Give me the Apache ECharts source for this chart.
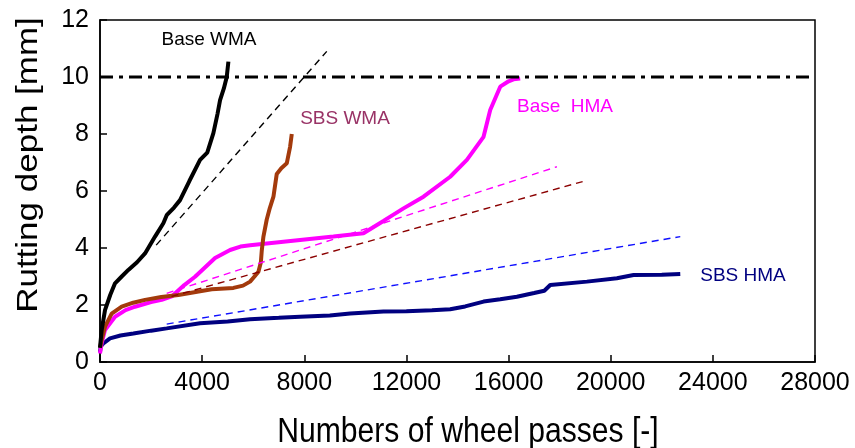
<!DOCTYPE html>
<html>
<head>
<meta charset="utf-8">
<script src="https://cdn.jsdelivr.net/npm/echarts@6/dist/echarts.min.js"></script>
<style>
html,body{margin:0;padding:0;background:#fff;}
#chart{width:855px;height:448px;}
</style>
</head>
<body>
<div id="chart"></div>
<script>
// ---- data ----
var xTicks = [0, 4000, 8000, 12000, 16000, 20000, 24000, 28000];
var yTicks = [0, 2, 4, 6, 8, 10, 12];

var baseWmaX = [0, 65, 196, 400, 588, 850, 1110, 1450, 1763, 2155, 2481, 2612, 2900, 3134, 3500, 3918, 4200, 4440, 4600, 4702, 4850, 4963, 5028];
var baseWmaY = [0.5, 1.12, 1.82, 2.35, 2.76, 3.0, 3.23, 3.5, 3.81, 4.4, 4.87, 5.15, 5.42, 5.68, 6.35, 7.09, 7.35, 8.03, 8.7, 9.19, 9.6, 10.0, 10.54];

var sbsWmaX = [0, 65, 196, 457, 849, 1300, 1763, 2400, 3068, 3918, 4375, 5224, 5600, 5877, 6050, 6204, 6300, 6334, 6400, 6530, 6650, 6792, 6922, 7100, 7314, 7444, 7510];
var sbsWmaY = [0.5, 0.77, 1.24, 1.7, 1.94, 2.08, 2.18, 2.28, 2.35, 2.48, 2.55, 2.6, 2.68, 2.82, 3.0, 3.17, 3.5, 3.9, 4.4, 5.0, 5.4, 5.8, 6.6, 6.8, 6.97, 7.55, 8.0];

var baseHmaX = [0, 65, 196, 588, 1000, 1371, 2000, 2417, 2808, 3300, 3722, 4506, 5094, 5500, 5877, 7183, 9142, 10318, 11100, 11885, 12669, 13714, 14367, 15020, 15281, 15673, 16000, 16193, 16454];
var baseHmaY = [0.3, 0.66, 1.12, 1.59, 1.82, 1.94, 2.1, 2.18, 2.3, 2.7, 2.99, 3.65, 3.93, 4.05, 4.1, 4.22, 4.4, 4.52, 4.95, 5.39, 5.8, 6.5, 7.09, 7.9, 8.84, 9.66, 9.85, 9.92, 9.95];

var sbsHmaX = [0, 30, 130, 392, 800, 1306, 2000, 2612, 3918, 5000, 5877, 7000, 7836, 9000, 9795, 11100, 12000, 13000, 13714, 14300, 15020, 15673, 16326, 17000, 17400, 17631, 19068, 20243, 20896, 22000, 22724];
var sbsHmaY = [0.35, 0.55, 0.65, 0.83, 0.93, 1.0, 1.1, 1.18, 1.36, 1.42, 1.5, 1.55, 1.59, 1.63, 1.7, 1.77, 1.78, 1.82, 1.85, 1.95, 2.12, 2.2, 2.29, 2.42, 2.5, 2.7, 2.82, 2.94, 3.05, 3.06, 3.09];

// linear fit (dashed) lines: [x0, x1], [y0, y1]
var baseWmaFitX = [2200, 8880];   var baseWmaFitY = [4.1, 10.9];
var sbsWmaFitX  = [2800, 18900];  var sbsWmaFitY  = [2.3, 6.33];
var baseHmaFitX = [2612, 17892];  var baseHmaFitY = [2.41, 6.85];
var sbsHmaFitX  = [2612, 22724];  var sbsHmaFitY  = [1.33, 4.4];

var limitX = [0, 28000]; var limitY = [10, 10];

var seriesNames = ['Base WMA', 'SBS WMA', 'Base  HMA', 'SBS HMA'];

// ---- build ----
function pairs(xs, ys){ return xs.map(function(x,i){ return [x, ys[i]]; }); }

var chart = echarts.init(document.getElementById('chart'), null, {renderer:'canvas'});
var FONT = '"Liberation Sans", Arial, Helvetica, sans-serif';

function curve(name, xs, ys, color, width){
  return {name:name, type:'line', data:pairs(xs,ys), showSymbol:false, symbol:'none',
    lineStyle:{color:color, width:width}, animation:false, silent:true};
}
function fit(name, xs, ys, color){
  return {name:name, type:'line', data:pairs(xs,ys), showSymbol:false, symbol:'none',
    lineStyle:{color:color, width:1.4, type:[7,5]}, animation:false, silent:true};
}

var option = {
  backgroundColor:'#fff',
  animation:false,
  grid:{left:100, right:40, top:20, bottom:86, show:true, borderColor:'#000', borderWidth:1.5, backgroundColor:'transparent'},
  xAxis:{type:'value', min:0, max:28000, interval:4000,
    axisLine:{show:true, lineStyle:{color:'#000', width:1.5}},
    axisTick:{show:true, inside:true, length:7, lineStyle:{color:'#000', width:1.5}},
    axisLabel:{color:'#000', fontSize:25, fontFamily:FONT, margin:9,
      formatter:function(v){ return xTicks.indexOf(v) >= 0 ? String(v) : ''; }},
    splitLine:{show:false}},
  yAxis:{type:'value', min:0, max:12, interval:2,
    axisLine:{show:true, lineStyle:{color:'#000', width:1.5}},
    axisTick:{show:true, inside:true, length:7, lineStyle:{color:'#000', width:1.5}},
    axisLabel:{color:'#000', fontSize:25, fontFamily:FONT, margin:11,
      formatter:function(v){ return yTicks.indexOf(v) >= 0 ? String(v) : ''; }},
    splitLine:{show:false}},
  series:[
    curve(seriesNames[3], sbsHmaX, sbsHmaY, '#000080', 4),
    curve(seriesNames[2], baseHmaX, baseHmaY, '#FF00FF', 4),
    curve(seriesNames[1], sbsWmaX, sbsWmaY, '#A33A0C', 4),
    curve(seriesNames[0], baseWmaX, baseWmaY, '#000000', 4),
    fit('Base WMA fit', baseWmaFitX, baseWmaFitY, '#000000'),
    fit('SBS WMA fit', sbsWmaFitX, sbsWmaFitY, '#8B0000'),
    fit('Base HMA fit', baseHmaFitX, baseHmaFitY, '#FF00FF'),
    fit('SBS HMA fit', sbsHmaFitX, sbsHmaFitY, '#1010FF'),
    {name:'limit', type:'line', data:pairs(limitX, limitY), showSymbol:false, symbol:'none',
      lineStyle:{color:'#000', width:3, type:[13,6,4,6]}, animation:false, silent:true}
  ],
  graphic:[
    {type:'text', left:'center', x:0, style:{text:''}},
    {type:'text', x:468, y:432, scaleX:0.86, style:{text:'Numbers of wheel passes [-]', font:'35px ' + FONT, fill:'#000', textAlign:'center', textVerticalAlign:'middle'}},
    {type:'text', x:29, y:165, rotation:Math.PI/2, scaleY:0.86, style:{text:'Rutting depth [mm]', font:'35px ' + FONT, fill:'#000', textAlign:'center', textVerticalAlign:'middle'}},
    {type:'text', x:209, y:40, style:{text:seriesNames[0], font:'19px ' + FONT, fill:'#000', textAlign:'center', textVerticalAlign:'middle'}},
    {type:'text', x:345, y:119, style:{text:seriesNames[1], font:'19px ' + FONT, fill:'#993366', textAlign:'center', textVerticalAlign:'middle'}},
    {type:'text', x:565, y:107, style:{text:seriesNames[2], font:'19px ' + FONT, fill:'#FF00FF', textAlign:'center', textVerticalAlign:'middle'}},
    {type:'text', x:743, y:276, style:{text:seriesNames[3], font:'19px ' + FONT, fill:'#000080', textAlign:'center', textVerticalAlign:'middle'}}
  ]
};
chart.setOption(option);
</script>
</body>
</html>
